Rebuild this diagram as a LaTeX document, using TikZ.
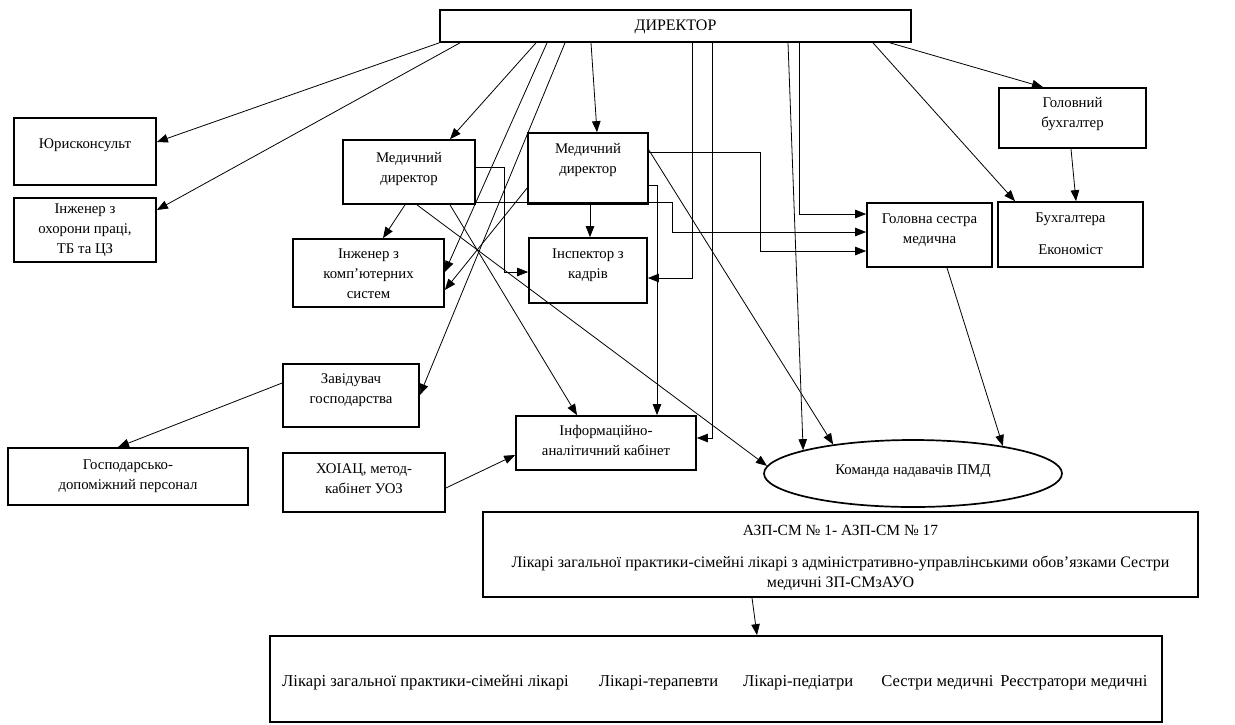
\documentclass[tikz,border=0pt]{standalone}
\usepackage{fontspec}
\setmainfont{Liberation Serif}
\usetikzlibrary{arrows.meta,shapes.geometric}
\begin{document}
\begin{tikzpicture}[x=1pt,y=-1pt,
  box/.style={draw,line width=1.7pt,inner sep=0pt,rectangle},
  oval/.style={draw,line width=1.7pt,inner sep=0pt,ellipse},
  lbl/.style={font=\fontsize{14.8}{20}\selectfont,align=center,inner sep=0pt},
  conn/.style={line width=0.8pt,-{Triangle[length=11pt,width=8.5pt]}},
]
\useasboundingbox (0,0) rectangle (1235,724);
% boxes
\node[box,minimum width=471,minimum height=32] (dir) at (675.5,26) {};
\node[box,minimum width=142,minimum height=67] (yur) at (85,151.5) {};
\node[box,minimum width=142,minimum height=64] (ohor) at (85,230) {};
\node[box,minimum width=132,minimum height=64] (md1) at (409,172) {};
\node[box,minimum width=120,minimum height=71] (md2) at (588,168.5) {};
\node[box,minimum width=151,minimum height=68] (komp) at (368.5,273) {};
\node[box,minimum width=118,minimum height=65] (insp) at (588,270.5) {};
\node[box,minimum width=125,minimum height=64] (sestra) at (929.5,235) {};
\node[box,minimum width=147,minimum height=60] (gbukh) at (1072.5,118) {};
\node[box,minimum width=145,minimum height=65] (bukh) at (1070.5,234.5) {};
\node[box,minimum width=136,minimum height=63] (zav) at (351,395.5) {};
\node[box,minimum width=240,minimum height=57] (gosp) at (128,476.5) {};
\node[box,minimum width=162,minimum height=59] (hoiac) at (364,482.5) {};
\node[box,minimum width=180,minimum height=54] (info) at (606,443) {};
\node[oval,minimum width=298,minimum height=67] (ell) at (913,473.5) {};
\node[box,minimum width=715,minimum height=85] (azp) at (840.5,554.5) {};
\node[box,minimum width=892,minimum height=86] (bot) at (716,679) {};
% texts
\node[lbl,font=\fontsize{16}{20}\selectfont] (dirt) at (675.5,27) {ДИРЕКТОР};
\node[lbl] (yurt) at (85,145) {Юрисконсульт};
\node[lbl] (ohort) at (85,230) {Інженер з\\охорони праці,\\ТБ та ЦЗ};
\node[lbl] (md1t) at (409,169) {Медичний\\директор};
\node[lbl] (md2t) at (588,160) {Медичний\\директор};
\node[lbl] (kompt) at (368.5,274) {Інженер з\\комп’ютерних\\систем};
\node[lbl] (inspt) at (588,265) {Інспектор з\\кадрів};
\node[lbl] (sestrat) at (929.5,230) {Головна сестра\\медична};
\node[lbl] (gbukht) at (1072.5,114) {Головний\\бухгалтер};
\node[lbl] (bukht) at (1070.5,234) {Бухгалтера\\[12pt]Економіст};
\node[lbl] (zavt) at (351,390) {Завідувач\\господарства};
\node[lbl] (gospt) at (128,476) {Господарсько-\\допоміжний персонал};
\node[lbl] (hoiact) at (364,479) {ХОІАЦ, метод-\\кабінет УОЗ};
\node[lbl] (infot) at (606,440) {Інформаційно-\\аналітичний кабінет};
\node[lbl] (ellt) at (913,471) {Команда надавачів ПМД};
\node[lbl,font=\fontsize{15.5}{20}\selectfont] (azpt) at (840.5,530) {АЗП-СМ № 1- АЗП-СМ № 17};
\node[lbl,font=\fontsize{16}{20}\selectfont] (azpt2) at (840.5,573) {Лікарі загальної практики-сімейні лікарі з адміністративно-управлінськими обов’язками Сестри\\медичні ЗП-СМзАУО};
\node[lbl,anchor=west,font=\fontsize{16.6}{20}\selectfont] (bott) at (282,683) {Лікарі загальної практики-сімейні лікарі\hspace{30pt}Лікарі-терапевти\hspace{25pt}Лікарі-педіатри\hspace{28pt}Сестри медичні\hspace{7pt}Реєстратори медичні};
% connectors from director
\draw[conn] (dir.south west) -- (yur.east |- 0,142);
\draw[conn] (460,0 |- dir.south) -- (ohor.east |- 0,210);
\draw[conn] (536,0 |- dir.south) -- (450,0 |- md1.north);
\draw[conn] (547,0 |- dir.south) -- (komp.east |- 0,272);
\draw[conn] (565,0 |- dir.south) -- (zav.east |- 0,395);
\draw[conn] (591,0 |- dir.south) -- (597,0 |- md2.north);
\draw[conn] (692,0 |- dir.south) -- (692,278) -- (insp.east |- 0,278);
\draw[conn] (712,0 |- dir.south) -- (712,438) -- (info.east |- 0,438);
\draw[conn] (788,0 |- dir.south) -- (ell.168.4);
\draw[conn] (799,0 |- dir.south) -- (799,214) -- (sestra.west |- 0,214);
\draw[conn] (873,0 |- dir.south) -- (1015,0 |- bukh.north);
\draw[conn] (890,0 |- dir.south) -- (1043,0 |- gbukh.north);
% medical director 1
\draw[conn] (405,0 |- md1.south) -- (383,0 |- komp.north);
\draw[conn] (417,0 |- md1.south) -- (ell.177);
\draw[conn] (450,0 |- md1.south) -- (577,0 |- info.north);
\draw[conn] (md1.east |- 0,167) -- (504,167) -- (504,272) -- (insp.west |- 0,272);
\draw[conn] (md1.east |- 0,202) -- (672,202) -- (672,232) -- (sestra.west |- 0,232);
% medical director 2
\draw[conn] (md2.west |- 0,188) -- (komp.east |- 0,290);
\draw[conn] (590,0 |- md2.south) -- (590,0 |- insp.north);
\draw[conn] (md2.east |- 0,152) -- (760,152) -- (760,251) -- (sestra.west |- 0,251);
\draw[conn] (md2.east |- 0,185) -- (657,185) -- (657,0 |- info.north);
\draw[conn] (md2.east |- 0,150) -- (ell.160.2);
% others
\draw[conn] (1071,0 |- gbukh.south) -- (1076,0 |- bukh.north);
\draw[conn] (947,0 |- sestra.south) -- (ell.17.5);
\draw[conn] (zav.west |- 0,383) -- (118,0 |- gosp.north);
\draw[conn] (hoiac.east |- 0,488) -- (info.west |- 0,455);
\draw[conn] (752,0 |- azp.south) -- (757,0 |- bot.north);
\end{tikzpicture}
\end{document}
